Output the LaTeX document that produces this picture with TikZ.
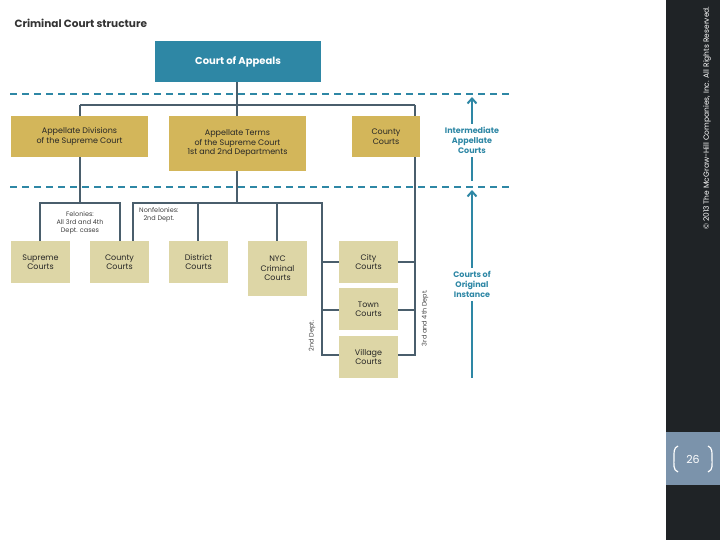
\documentclass[tikz,border=0pt]{standalone}
\usepackage{fontspec}
\setmainfont{Poppins}
\usetikzlibrary{arrows.meta}
\definecolor{teal}{HTML}{2E87A5}
\definecolor{ln}{HTML}{4A5E6C}
\definecolor{gold}{HTML}{D3B65A}
\definecolor{khaki}{HTML}{DDD6A6}
\definecolor{bar}{HTML}{1F2326}
\definecolor{pg}{HTML}{7B93AB}
\begin{document}
\begin{tikzpicture}[x=1pt,y=-1pt,
  box/.style={draw=none,align=center,font=\fontsize{8}{9.5}\selectfont,text=black!85,inner sep=0pt},
  gb/.style={box,fill=gold},
  kb/.style={box,fill=khaki},
  tree/.style={ln,line width=2.6pt},
  lbl/.style={font=\fontsize{6.5}{8}\selectfont,text=black!75,align=center,inner sep=0pt},
  tl/.style={font=\bfseries\fontsize{8}{10}\selectfont,text=teal,align=center,inner sep=0pt},
  dsh/.style={teal,line width=1.6pt,dash pattern=on 7pt off 5pt},
  tar/.style={teal,line width=2.4pt,-{Straight Barb[length=5pt,width=9pt,line width=2pt]}}]
\useasboundingbox (0,0) rectangle (720,540);
\fill[bar] (666,0) rectangle (720,540);
\fill[pg] (666,432) rectangle (720,485);
\node[text=white,font=\fontsize{11}{12}\selectfont] (pn) at (693,459) {26};
\draw[white,line width=1.2pt] (678,446) to[out=-160,in=90] (674,458) to[out=-90,in=160] (678,472);
\draw[white,line width=1.2pt] (708,446) to[out=-20,in=90] (712,458) to[out=-90,in=20] (708,472);
\node[rotate=90,text=white,font=\fontsize{7.5}{9}\selectfont,anchor=east] (cr) at (707,3) {© 2013 The McGraw-Hill Companies, Inc. All Rights Reserved.};
\node[anchor=west,font=\bfseries\fontsize{10.5}{12}\selectfont,text=black!80] (title) at (11,23) {Criminal Court structure};
% dashed lines
\coordinate (d1a) at (10,94); \coordinate (d1b) at (512,94);
\coordinate (d2a) at (10,187); \coordinate (d2b) at (512,187);
\draw[dsh] (d1a) -- (d1b);
\draw[dsh] (d2a) -- (d2b);
% tree lines
\coordinate (h1a) at (80,105); \coordinate (h1b) at (415,105);
\draw[tree] (237,82) -- (237,105);
\draw[tree] (h1a) -- (h1b);
\draw[tree] (80,105) -- (80,203);
\draw[tree] (40,241) -- (40,203) -- (120,203) -- (120,241);
\draw[tree] (237,105) -- (237,203);
\draw[tree] (133,241) -- (133,203) -- (322,203) -- (322,355) -- (340,355);
\draw[tree] (198,203) -- (198,241);
\draw[tree] (277,203) -- (277,241);
\draw[tree] (322,262) -- (340,262);
\draw[tree] (322,310) -- (340,310);
\draw[tree] (415,105) -- (415,355) -- (397,355);
\draw[tree] (415,262) -- (397,262);
\draw[tree] (415,310) -- (397,310);
% boxes
\node[box,fill=teal,text=white,font=\bfseries\fontsize{10}{12}\selectfont,minimum width=166pt,minimum height=41pt] (coa) at (238,61.5) {Court of Appeals};
\node[gb,minimum width=137pt,minimum height=41pt] (ad) at (79.5,136.5) {Appellate Divisions\\of the Supreme Court};
\node[gb,minimum width=137pt,minimum height=55pt] (at) at (237.5,143.5) {Appellate Terms\\of the Supreme Court\\1st and 2nd Departments};
\node[gb,minimum width=68pt,minimum height=41pt] (cc1) at (386,136.5) {County\\Courts};
\node[kb,minimum width=59pt,minimum height=42pt] (sc) at (40.5,262) {Supreme\\Courts};
\node[kb,minimum width=59pt,minimum height=42pt] (cc2) at (119.5,262) {County\\Courts};
\node[kb,minimum width=59pt,minimum height=42pt] (dc) at (198.5,262) {District\\Courts};
\node[kb,minimum width=59pt,minimum height=55pt] (nyc) at (277.5,268.5) {NYC\\Criminal\\Courts};
\node[kb,minimum width=59pt,minimum height=42pt] (city) at (368.5,262) {City\\Courts};
\node[kb,minimum width=59pt,minimum height=42pt] (town) at (368.5,309) {Town\\Courts};
\node[kb,minimum width=59pt,minimum height=42pt] (vil) at (368.5,357) {Village\\Courts};
% labels
\node[lbl,fill=white,inner sep=1pt] (fel) at (80,223) {Felonies:\\All 3rd and 4th\\Dept. cases};
\node[lbl,anchor=north west] (nf) at (139,207) {Nonfelonies:\\2nd Dept.};
\node[lbl,rotate=90] (d2) at (312,336) {2nd Dept.};
\node[lbl,rotate=90] (d34) at (425,318) {3rd and 4th Dept.};
% teal arrows
\node[tl] (iac) at (472,140) {Intermediate\\Appellate\\Courts};
\node[tl] (coi) at (472,284) {Courts of\\Original\\Instance};
\coordinate (a1) at (472,97); \coordinate (a1b) at (472,181);
\coordinate (a2) at (472,190); \coordinate (a2b) at (472,378);
\draw[tar] (iac.north) ++(0,-3) -- (a1);
\draw[teal,line width=2.4pt] (iac.south) ++(0,4) -- (a1b);
\draw[tar] (coi.north) ++(0,-3) -- (a2);
\draw[teal,line width=2.4pt] (coi.south) ++(0,4) -- (a2b);
\end{tikzpicture}
\end{document}
